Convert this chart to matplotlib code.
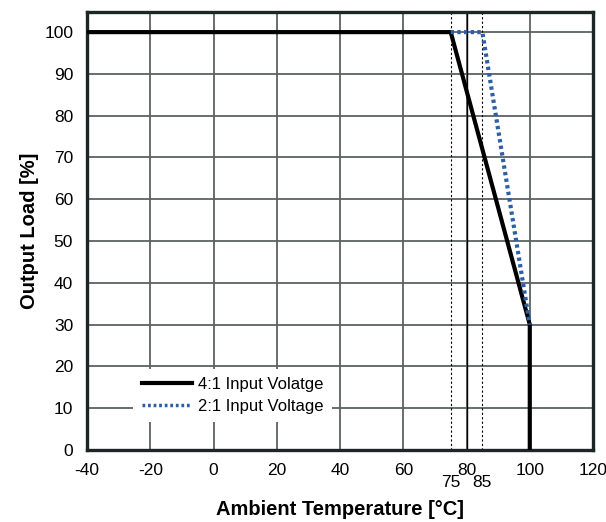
import matplotlib
matplotlib.use("Agg")
import matplotlib.pyplot as plt
from matplotlib import transforms

plt.rcParams['font.family'] = ['Liberation Sans', 'DejaVu Sans']
plt.rcParams['axes.unicode_minus'] = False

# 4:1 input derating curve
temp_41 = [-40, 75, 100, 100]
load_41 = [100, 100, 30, 0]
# 2:1 input derating curve
temp_21 = [75, 85, 100]
load_21 = [100, 100, 30]

xticks = [-40, -20, 0, 20, 40, 60, 80, 100, 120]
yticks = [0, 10, 20, 30, 40, 50, 60, 70, 80, 90, 100]
marks = [75, 85]

fig = plt.figure(figsize=(6.06, 5.22), dpi=100)
ax = fig.add_axes([0.1436, 0.1379, 0.835, 0.839])

ax.set_xlim(-40, 120)
ax.set_ylim(0, 104.8)
ax.set_xticks(xticks)
ax.set_yticks(yticks)
ax.tick_params(length=0, labelsize=12.5)
ax.tick_params(axis='x', pad=9)
ax.tick_params(axis='y', pad=10)
ax.grid(True, color='#5c6262', linewidth=1.3)
ax.set_axisbelow(True)
for s in ax.spines.values():
    s.set_linewidth(2.4)
    s.set_color('#1c2626')

# thin black line at 80
ax.axvline(80, color='black', linewidth=1.0, zorder=1)
for m in marks:
    ax.axvline(m, color='black', linewidth=0.8, linestyle=(0, (2, 2)), zorder=1)

trans = transforms.blended_transform_factory(ax.transData, ax.transAxes)
for m in marks:
    ax.text(m, -0.058, str(m), transform=trans, ha='center', va='top', fontsize=12.5)

ax.plot(temp_41, load_41, color='black', linewidth=3, label='4:1 Input Volatge', zorder=3)
ax.plot(temp_21, load_21, color='#2d5fa6', linewidth=3, linestyle=(0, (0.8, 0.8)),
        label='2:1 Input Voltage', zorder=4)

leg = ax.legend(loc='lower left', bbox_to_anchor=(0.075, 0.045), frameon=True, fontsize=12,
                handlelength=3.0, handletextpad=0.4, borderpad=0.5, labelspacing=0.4)
leg.get_frame().set_edgecolor('none')
leg.get_frame().set_facecolor('white')
leg.get_frame().set_alpha(1)
leg.get_lines()[1].set_linewidth(2.5)

ax.set_xlabel('Ambient Temperature [°C]', fontsize=14.5, fontweight='bold', labelpad=16)
ax.set_ylabel('Output Load [%]', fontsize=14.5, fontweight='bold', labelpad=4)

fig.savefig('out.png', dpi=100)
